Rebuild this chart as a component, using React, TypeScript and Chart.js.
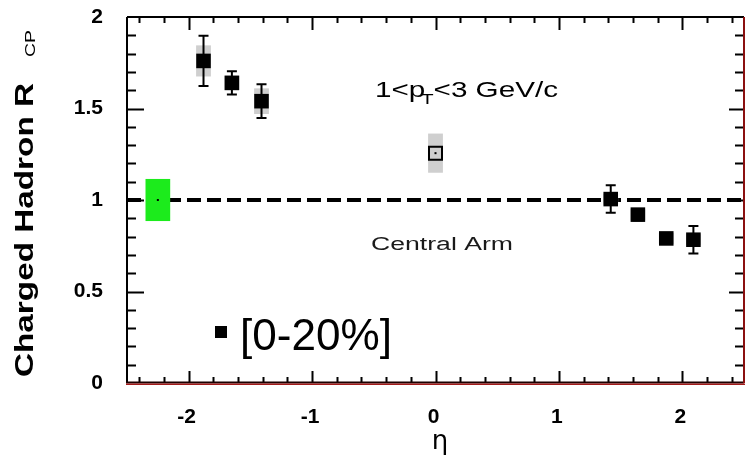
import { useEffect, useRef } from "react";
import { Chart, registerables } from "chart.js";

Chart.register(...registerables);

// ---- data ----
const eta = [-1.88, -1.65, -1.41, 0, 1.42, 1.64, 1.87, 2.09];
const rcp = [1.76, 1.64, 1.54, 1.256, 1.005, 0.92, 0.79, 0.783];
const statErr = [0.137, 0.063, 0.092, 0, 0.075, 0.03, 0.03, 0.075];
const sysErr = [0.085, 0.04, 0.07, 0.107, 0.03, 0.03, 0.03, 0.03];
const openMarker = [false, false, false, true, false, false, false, false];
const sysHalfWidth = 0.06;

const normEta = -2.25;
const normHalfWidth = 0.1;
const normLow = 0.885;
const normHigh = 1.115;
const refLine = 1;

const xTickValues = [-2, -1, 0, 1, 2];
const xTickLabels = ["-2", "-1", "0", "1", "2"];
const yTickValues = [0, 0.5, 1, 1.5, 2];
const yTickLabels = ["0", "0.5", "1", "1.5", "2"];
const xMin = -2.5;
const xMax = 2.5;
const yMin = 0;
const yMax = 2;

const FONT = "'Liberation Sans', Arial, sans-serif";

function fitText(
  ctx: CanvasRenderingContext2D,
  text: string,
  x: number,
  y: number,
  font: string,
  width?: number,
  rotate = 0
) {
  ctx.save();
  ctx.font = font;
  const w = ctx.measureText(text).width;
  const sx = width ? width / w : 1;
  ctx.translate(x, y);
  if (rotate) ctx.rotate(rotate);
  ctx.scale(sx, 1);
  ctx.textAlign = "left";
  ctx.textBaseline = "alphabetic";
  ctx.fillText(text, 0, 0);
  ctx.restore();
}

const zeroPad = (s: any) => {
  s.paddingTop = 0;
  s.paddingBottom = 0;
  s.paddingLeft = 0;
  s.paddingRight = 0;
};

const decorPlugin = {
  id: "decor",
  beforeDatasetsDraw(chart: any) {
    const ctx: CanvasRenderingContext2D = chart.ctx;
    const xs = chart.scales.x;
    const ys = chart.scales.y;
    const { left, right } = chart.chartArea;
    ctx.save();
    // dashed reference line
    ctx.strokeStyle = "#000";
    ctx.lineWidth = 4;
    ctx.setLineDash([14, 6]);
    ctx.beginPath();
    const yr = ys.getPixelForValue(refLine);
    ctx.moveTo(left, yr);
    ctx.lineTo(right, yr);
    ctx.stroke();
    ctx.setLineDash([]);
    // normalization box
    ctx.fillStyle = "#1ceb1c";
    const gx0 = xs.getPixelForValue(normEta - normHalfWidth);
    const gx1 = xs.getPixelForValue(normEta + normHalfWidth);
    const gy0 = ys.getPixelForValue(normHigh);
    const gy1 = ys.getPixelForValue(normLow);
    ctx.fillRect(gx0, gy0, gx1 - gx0, gy1 - gy0);
    ctx.fillStyle = "#000";
    ctx.fillRect(xs.getPixelForValue(normEta) - 1, ys.getPixelForValue(refLine) - 1, 2, 2);
    // systematic boxes
    ctx.fillStyle = "#cfcfcf";
    for (let i = 0; i < eta.length; i++) {
      const x0 = xs.getPixelForValue(eta[i] - sysHalfWidth);
      const x1 = xs.getPixelForValue(eta[i] + sysHalfWidth);
      const y0 = ys.getPixelForValue(rcp[i] + sysErr[i]);
      const y1 = ys.getPixelForValue(rcp[i] - sysErr[i]);
      ctx.fillRect(x0, y0, x1 - x0, y1 - y0);
    }
    // statistical error bars
    ctx.strokeStyle = "#000";
    ctx.lineWidth = 2;
    for (let i = 0; i < eta.length; i++) {
      if (!statErr[i]) continue;
      const px = xs.getPixelForValue(eta[i]);
      const yt = ys.getPixelForValue(rcp[i] + statErr[i]);
      const yb = ys.getPixelForValue(rcp[i] - statErr[i]);
      ctx.beginPath();
      ctx.moveTo(px, yt);
      ctx.lineTo(px, yb);
      ctx.moveTo(px - 5, yt);
      ctx.lineTo(px + 5, yt);
      ctx.moveTo(px - 5, yb);
      ctx.lineTo(px + 5, yb);
      ctx.stroke();
    }
    ctx.restore();
  },
  afterDraw(chart: any) {
    const ctx: CanvasRenderingContext2D = chart.ctx;
    const xs = chart.scales.x;
    const ys = chart.scales.y;
    const { left, right, top, bottom } = chart.chartArea;
    ctx.save();
    // center dot in open markers
    ctx.fillStyle = "#000";
    for (let i = 0; i < eta.length; i++) {
      if (openMarker[i]) {
        ctx.fillRect(xs.getPixelForValue(eta[i]) - 1, ys.getPixelForValue(rcp[i]) - 1, 2, 2);
      }
    }
    // ticks
    ctx.strokeStyle = "#000";
    ctx.lineWidth = 2;
    ctx.beginPath();
    for (let i = -24; i <= 24; i += 2) {
      const v = i / 10;
      const px = Math.round(xs.getPixelForValue(v)) + 0.5;
      const major = i % 10 === 0;
      const len = major ? 12 : 6;
      ctx.moveTo(px, bottom);
      ctx.lineTo(px, bottom - len);
      ctx.moveTo(px, top);
      ctx.lineTo(px, top + (major ? 13 : 6));
    }
    for (let i = 1; i <= 19; i++) {
      const v = i / 10;
      const py = Math.round(ys.getPixelForValue(v)) + 0.5;
      const major = i % 5 === 0;
      ctx.moveTo(left, py);
      ctx.lineTo(left + (major ? 17 : 9), py);
      ctx.moveTo(right, py);
      ctx.lineTo(right - (major ? 15 : 9), py);
    }
    ctx.stroke();
    // frame
    ctx.beginPath();
    ctx.moveTo(left, top);
    ctx.lineTo(right, top);
    ctx.moveTo(left, top);
    ctx.lineTo(left, bottom);
    ctx.stroke();
    ctx.strokeStyle = "#1a0000";
    ctx.lineWidth = 2;
    ctx.beginPath();
    ctx.moveTo(left - 1, bottom - 0.5);
    ctx.lineTo(right, bottom - 0.5);
    ctx.stroke();
    ctx.strokeStyle = "#a31a1a";
    ctx.lineWidth = 1.5;
    ctx.beginPath();
    ctx.moveTo(left - 1, bottom + 1.2);
    ctx.lineTo(right + 1, bottom + 1.2);
    ctx.stroke();
    ctx.strokeStyle = "#8b1010";
    ctx.lineWidth = 2;
    ctx.beginPath();
    ctx.moveTo(right, top);
    ctx.lineTo(right, bottom);
    ctx.stroke();

    // tick labels
    ctx.fillStyle = "#000";
    ctx.font = `bold 21px ${FONT}`;
    ctx.textBaseline = "middle";
    ctx.textAlign = "center";
    xTickValues.forEach((v, i) => {
      ctx.fillText(xTickLabels[i], xs.getPixelForValue(v) - 2, 417);
    });
    ctx.textAlign = "right";
    yTickValues.forEach((v, i) => {
      ctx.fillText(yTickLabels[i], 103, ys.getPixelForValue(v));
    });

    // kinematic label: 1<p_T<3 GeV/c, scaled as a whole to its width
    {
      const kx = 375;
      const kw = 183;
      const kf = `22px ${FONT}`;
      const sf = `15px ${FONT}`;
      ctx.font = kf;
      const wa = ctx.measureText("1<p").width;
      const wc = ctx.measureText("<3 GeV/c").width;
      ctx.font = sf;
      const wb = ctx.measureText("T").width;
      const total = wa + wb - 3 + wc;
      const s = kw / total;
      ctx.save();
      ctx.translate(kx, 97);
      ctx.scale(s, 1);
      ctx.textAlign = "left";
      ctx.textBaseline = "alphabetic";
      ctx.font = kf;
      ctx.fillText("1<p", 0, 0);
      ctx.font = sf;
      ctx.fillText("T", wa - 3, 7);
      ctx.font = kf;
      ctx.fillText("<3 GeV/c", wa - 3 + wb, 0);
      ctx.restore();
    }
    // Central Arm
    ctx.fillStyle = "#1a1a1a";
    fitText(ctx, "Central Arm", 371, 250, `18px ${FONT}`, 142);
    // legend
    ctx.fillStyle = "#000";
    ctx.fillRect(215, 326, 12, 12);
    fitText(ctx, "[0-20%]", 240, 350, `44px ${FONT}`, 152);
    // axis titles
    fitText(ctx, "Charged Hadron R", 33, 377, `bold 25px ${FONT}`, 294, -Math.PI / 2);
    fitText(ctx, "CP", 35, 57, `15px ${FONT}`, 27, -Math.PI / 2);
    ctx.font = `26px 'DejaVu Sans', ${FONT}`;
    ctx.textAlign = "center";
    ctx.textBaseline = "alphabetic";
    ctx.fillText("η", 440, 449);
    ctx.restore();
  },
};

export default function App() {
  const ref = useRef<HTMLCanvasElement>(null);
  useEffect(() => {
    document.body.style.margin = "0";
    const canvas = ref.current!;
    const filled = eta.map((x, i) => ({ x, y: rcp[i] })).filter((_, i) => !openMarker[i]);
    const open = eta.map((x, i) => ({ x, y: rcp[i] })).filter((_, i) => openMarker[i]);
    const chart = new Chart(canvas, {
      type: "scatter",
      data: {
        datasets: [
          {
            data: filled,
            pointStyle: "rect",
            pointRadius: 10.3,
            backgroundColor: "#000",
            borderColor: "#000",
            borderWidth: 0,
          },
          {
            data: open,
            pointStyle: "rect",
            pointRadius: 9.2,
            backgroundColor: "rgba(0,0,0,0)",
            borderColor: "#000",
            borderWidth: 2,
          },
        ],
      },
      options: {
        responsive: false,
        animation: false,
        devicePixelRatio: 1,
        layout: { autoPadding: false, padding: { top: 17, right: 2, left: 0, bottom: 0 } },
        plugins: { legend: { display: false }, tooltip: { enabled: false } },
        scales: {
          x: {
            type: "linear",
            min: xMin,
            max: xMax,
            grid: { display: false, drawTicks: false },
            border: { display: false },
            afterBuildTicks: (s: any) => {
              s.ticks = xTickValues.map((v) => ({ value: v }));
            },
            afterFit: (s: any) => {
              s.height = 73;
              zeroPad(s);
            },
            ticks: { display: false },
          },
          y: {
            type: "linear",
            min: yMin,
            max: yMax,
            grid: { display: false, drawTicks: false },
            border: { display: false },
            afterBuildTicks: (s: any) => {
              s.ticks = yTickValues.map((v) => ({ value: v }));
            },
            afterFit: (s: any) => {
              s.width = 127;
              zeroPad(s);
            },
            ticks: { display: false },
          },
        },
      },
      plugins: [decorPlugin],
    });
    return () => chart.destroy();
  }, []);
  return (
    <div style={{ width: 746, height: 456 }}>
      <canvas ref={ref} width={746} height={456} />
    </div>
  );
}
